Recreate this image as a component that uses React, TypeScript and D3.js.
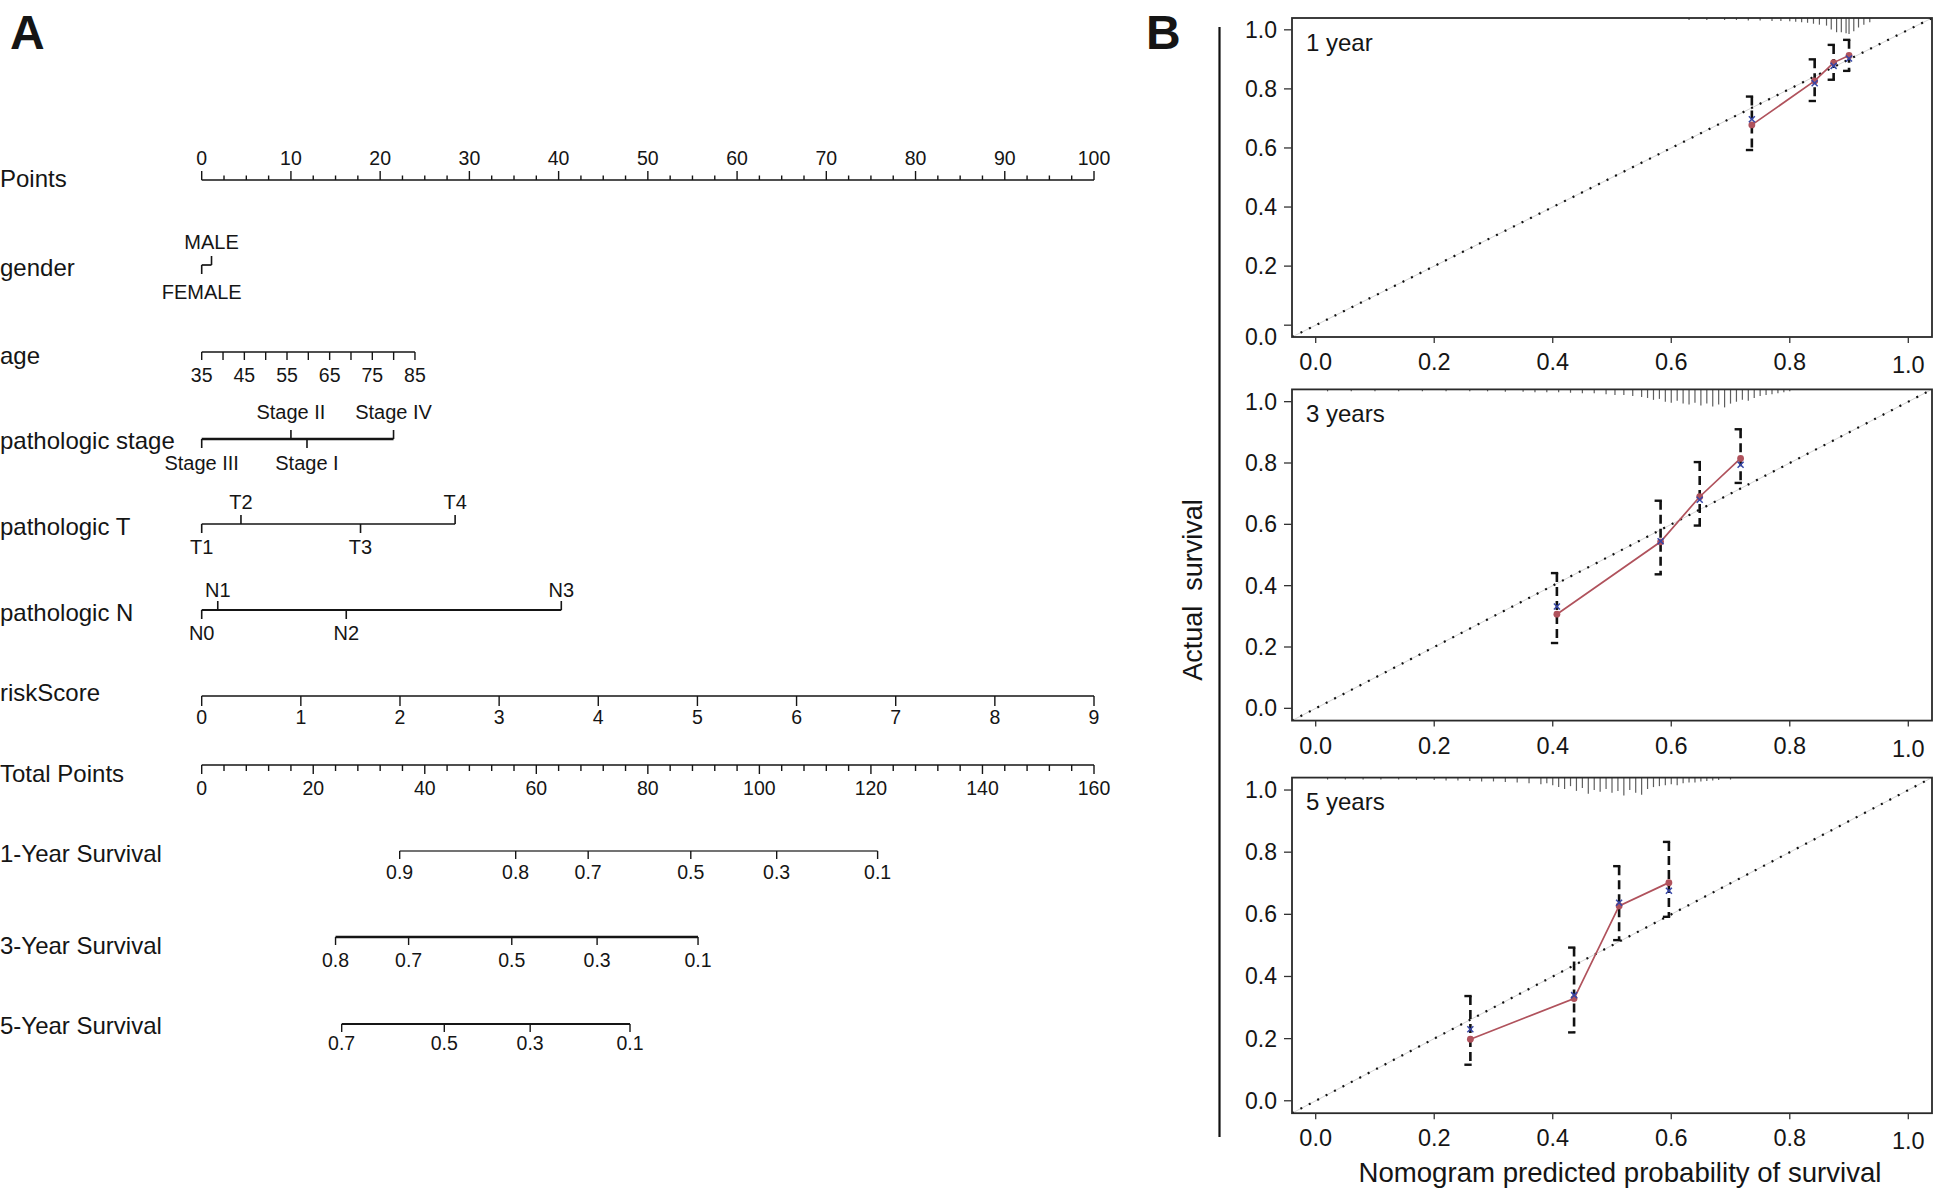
import React from "react";
import * as d3 from "d3";

const FONT = '"Liberation Sans", Arial, Helvetica, sans-serif';

// ---------------- Panel A: nomogram data ----------------
const pointsTicks = [0, 10, 20, 30, 40, 50, 60, 70, 80, 90, 100];
const genderLevels = ["FEMALE", "MALE"];
const genderPoints = [0, 1.1];
const genderSide = ["below", "above"];
const ageTickValues = [35, 40, 45, 50, 55, 60, 65, 70, 75, 80, 85];
const ageLabelValues = [35, 45, 55, 65, 75, 85];
const ageRange = [35, 85];
const agePointsRange = [0, 23.9];
const stageLevels = ["Stage III", "Stage II", "Stage I", "Stage IV"];
const stagePoints = [0, 10.0, 11.8, 21.5];
const stageSide = ["below", "above", "below", "above"];
const tLevels = ["T1", "T2", "T3", "T4"];
const tPoints = [0, 4.4, 17.8, 28.4];
const tSide = ["below", "above", "below", "above"];
const nLevels = ["N0", "N1", "N2", "N3"];
const nPoints = [0, 1.8, 16.2, 40.3];
const nSide = ["below", "above", "below", "above"];
const riskTicks = [0, 1, 2, 3, 4, 5, 6, 7, 8, 9];
const riskRange = [0, 9];
const riskPointsRange = [0, 100];
const totalTicks = [0, 20, 40, 60, 80, 100, 120, 140, 160];
const surv1Labels = ["0.9", "0.8", "0.7", "0.5", "0.3", "0.1"];
const surv1Total = [35.5, 56.3, 69.3, 87.7, 103.1, 121.2];
const surv3Labels = ["0.8", "0.7", "0.5", "0.3", "0.1"];
const surv3Total = [24.0, 37.1, 55.6, 70.9, 89.0];
const surv5Labels = ["0.7", "0.5", "0.3", "0.1"];
const surv5Total = [25.1, 43.5, 58.9, 76.8];

// ---------------- Panel B: calibration data ----------------
const calTitles = ["1 year", "3 years", "5 years"];
const cal1Pred = [0.736, 0.842, 0.874, 0.9];
const cal1Obs = [0.678, 0.827, 0.889, 0.913];
const cal1Corr = [0.697, 0.819, 0.878, 0.903];
const cal1Lo = [0.593, 0.759, 0.831, 0.861];
const cal1Hi = [0.774, 0.9, 0.949, 0.966];

const cal3Pred = [0.407, 0.582, 0.648, 0.717];
const cal3Obs = [0.307, 0.543, 0.69, 0.815];
const cal3Corr = [0.332, 0.545, 0.68, 0.794];
const cal3Lo = [0.213, 0.437, 0.596, 0.735];
const cal3Hi = [0.441, 0.677, 0.803, 0.91];

const cal5Pred = [0.261, 0.436, 0.512, 0.596];
const cal5Obs = [0.198, 0.329, 0.627, 0.702];
const cal5Corr = [0.23, 0.34, 0.637, 0.676];
const cal5Lo = [0.116, 0.22, 0.517, 0.592];
const cal5Hi = [0.337, 0.493, 0.755, 0.833];

// rug (distribution of predicted probabilities): position, count
const rug1Pos = [0.63, 0.66, 0.69, 0.71, 0.73, 0.75, 0.77, 0.785, 0.8, 0.81, 0.82, 0.83, 0.84, 0.85, 0.862, 0.87, 0.879, 0.887, 0.895, 0.9, 0.908, 0.916, 0.925, 0.935];
const rug1Cnt = [1, 1, 1, 1, 1.5, 1.5, 2, 2, 2.5, 3, 3.5, 4, 5, 6, 7, 11, 14, 14, 15, 16, 13, 9, 6, 3.5];
const rug3Pos = [0.02, 0.06, 0.1, 0.14, 0.18, 0.22, 0.26, 0.29, 0.32, 0.35, 0.37, 0.39, 0.41, 0.43, 0.45, 0.47, 0.49, 0.505, 0.52, 0.535, 0.55, 0.56, 0.57, 0.58, 0.59, 0.6, 0.61, 0.62, 0.63, 0.64, 0.65, 0.66, 0.67, 0.68, 0.69, 0.7, 0.71, 0.72, 0.73, 0.74, 0.75, 0.76, 0.77, 0.78, 0.79, 0.8];
const rug3Cnt = [1, 1, 1, 1, 1, 1, 1, 1, 1.5, 1.5, 2, 2, 2, 2.5, 3, 3, 4, 5, 5, 6, 7, 8, 10, 9, 12, 13, 11, 14, 15, 13, 16, 14, 17, 15, 18, 14, 12, 10, 11, 8, 6, 5, 4, 3, 2, 1];
const rug5Pos = [0.02, 0.05, 0.08, 0.11, 0.14, 0.17, 0.2, 0.22, 0.24, 0.26, 0.28, 0.3, 0.32, 0.34, 0.36, 0.38, 0.39, 0.4, 0.41, 0.42, 0.43, 0.44, 0.45, 0.46, 0.47, 0.48, 0.49, 0.5, 0.51, 0.52, 0.53, 0.54, 0.55, 0.56, 0.57, 0.58, 0.59, 0.6, 0.61, 0.62, 0.63, 0.64, 0.65, 0.66, 0.67, 0.68, 0.7];
const rug5Cnt = [1, 1, 1, 1, 1, 1.5, 1.5, 2, 2, 2.5, 3, 3, 3.5, 4, 5, 6, 5, 7, 9, 11, 8, 13, 10, 16, 12, 14, 11, 15, 13, 18, 12, 15, 17, 11, 9, 8, 7, 6, 7, 5, 4, 4, 3, 2.5, 2, 1.5, 1];

const calAxisTicks = [0, 0.2, 0.4, 0.6, 0.8, 1.0];
const calTickLabels = ["0.0", "0.2", "0.4", "0.6", "0.8", "1.0"];

// ---------------- Layout ----------------
const W = 1952;
const H = 1188;
const INK = "#151515";

const pts = d3.scaleLinear().domain([0, 100]).range([201.7, 1094]);
const tot = d3.scaleLinear().domain([0, 160]).range([201.7, 1094]);
const agePts = d3.scaleLinear().domain(ageRange).range(agePointsRange);
const riskPts = d3.scaleLinear().domain(riskRange).range(riskPointsRange);

const rows = {
  points: { label: 178, line: 180, tick: 158 },
  gender: { label: 267, line: 265, above: 242, below: 292 },
  age: { label: 355, line: 352, tick: 375 },
  stage: { label: 440, line: 439, above: 412, below: 463 },
  T: { label: 526, line: 524, above: 502, below: 547 },
  N: { label: 612, line: 610, above: 590, below: 633 },
  risk: { label: 692, line: 696, tick: 717 },
  total: { label: 773, line: 765, tick: 788 },
  s1: { label: 853, line: 851, tick: 872 },
  s3: { label: 945, line: 937, tick: 960 },
  s5: { label: 1025, line: 1024, tick: 1043 },
};

const Txt = ({ x, y, size = 20, anchor = "start", children, weight = "normal", extra = {} }: any) => (
  <text
    x={x}
    y={y}
    fontSize={size}
    fontFamily={FONT}
    fontWeight={weight}
    textAnchor={anchor}
    dominantBaseline="central"
    fill={INK}
    {...extra}
  >
    {children}
  </text>
);

function RowLabel({ y, text }: any) {
  return <Txt x={0} y={y} size={24}>{text}</Txt>;
}

function CatRow({ levels, values, sides, lay, sw = 1.7 }: any) {
  const xs = values.map((v: number) => pts(v));
  const x0 = d3.min(xs) as number;
  const x1 = d3.max(xs) as number;
  return (
    <g>
      <line x1={x0} x2={x1} y1={lay.line} y2={lay.line} stroke={INK} strokeWidth={sw} />
      {levels.map((l: string, i: number) => {
        const up = sides[i] === "above";
        return (
          <g key={l}>
            <line x1={xs[i]} x2={xs[i]} y1={lay.line} y2={lay.line + (up ? -9 : 9)} stroke={INK} strokeWidth={1.6} />
            <Txt x={xs[i]} y={up ? lay.above : lay.below} anchor="middle" size={20}>{l}</Txt>
          </g>
        );
      })}
    </g>
  );
}

function SurvRow({ labels, totals, lay, sw = 1.6, color = INK }: any) {
  const xs = totals.map((v: number) => tot(v));
  return (
    <g>
      <line x1={d3.min(xs)} x2={d3.max(xs)} y1={lay.line} y2={lay.line} stroke={color} strokeWidth={sw} />
      {labels.map((l: string, i: number) => (
        <g key={l}>
          <line x1={xs[i]} x2={xs[i]} y1={lay.line} y2={lay.line + 8} stroke={INK} strokeWidth={1.4} />
          <Txt x={xs[i]} y={lay.tick} anchor="middle" size={19.5}>{l}</Txt>
        </g>
      ))}
    </g>
  );
}

function Nomogram() {
  const minorPts = d3.range(0, 100.01, 2.5);
  const minorTot = d3.range(0, 160.01, 4);
  return (
    <g>
      <Txt x={10} y={32} size={48} weight="bold">A</Txt>

      {/* Points */}
      <RowLabel y={rows.points.label} text="Points" />
      <line x1={pts(0)} x2={pts(100)} y1={rows.points.line} y2={rows.points.line} stroke={INK} strokeWidth={1.6} />
      {minorPts.map((v) => {
        const major = Math.abs(v % 10) < 1e-6;
        return (
          <line key={v} x1={pts(v)} x2={pts(v)} y1={rows.points.line} y2={rows.points.line - (major ? 9 : 4.5)} stroke={INK} strokeWidth={1.4} />
        );
      })}
      {pointsTicks.map((v) => (
        <Txt key={v} x={pts(v)} y={rows.points.tick} anchor="middle" size={19.5}>{v}</Txt>
      ))}

      {/* gender */}
      <RowLabel y={rows.gender.label} text="gender" />
      <CatRow levels={genderLevels} values={genderPoints} sides={genderSide} lay={rows.gender} />

      {/* age */}
      <RowLabel y={rows.age.label} text="age" />
      <line x1={pts(agePts(35))} x2={pts(agePts(85))} y1={rows.age.line} y2={rows.age.line} stroke={INK} strokeWidth={1.6} />
      {ageTickValues.map((a) => (
        <line key={a} x1={pts(agePts(a))} x2={pts(agePts(a))} y1={rows.age.line} y2={rows.age.line + 8} stroke={INK} strokeWidth={1.4} />
      ))}
      {ageLabelValues.map((a) => (
        <Txt key={a} x={pts(agePts(a))} y={rows.age.tick} anchor="middle" size={19.5}>{a}</Txt>
      ))}

      {/* pathologic stage */}
      <RowLabel y={rows.stage.label} text="pathologic stage" />
      <CatRow levels={stageLevels} values={stagePoints} sides={stageSide} lay={rows.stage} sw={2.3} />

      {/* pathologic T */}
      <RowLabel y={rows.T.label} text="pathologic T" />
      <CatRow levels={tLevels} values={tPoints} sides={tSide} lay={rows.T} />

      {/* pathologic N */}
      <RowLabel y={rows.N.label} text="pathologic N" />
      <CatRow levels={nLevels} values={nPoints} sides={nSide} lay={rows.N} sw={2} />

      {/* riskScore */}
      <RowLabel y={rows.risk.label} text="riskScore" />
      <line x1={pts(riskPts(0))} x2={pts(riskPts(9))} y1={rows.risk.line} y2={rows.risk.line} stroke={INK} strokeWidth={1.6} />
      {riskTicks.map((r) => (
        <g key={r}>
          <line x1={pts(riskPts(r))} x2={pts(riskPts(r))} y1={rows.risk.line} y2={rows.risk.line + 10} stroke={INK} strokeWidth={1.4} />
          <Txt x={pts(riskPts(r))} y={rows.risk.tick} anchor="middle" size={19.5}>{r}</Txt>
        </g>
      ))}

      {/* Total Points */}
      <RowLabel y={rows.total.label} text="Total Points" />
      <line x1={tot(0)} x2={tot(160)} y1={rows.total.line} y2={rows.total.line} stroke={INK} strokeWidth={1.6} />
      {minorTot.map((v) => {
        const major = Math.abs(v % 20) < 1e-6;
        return (
          <line key={v} x1={tot(v)} x2={tot(v)} y1={rows.total.line} y2={rows.total.line + (major ? 9 : 6)} stroke={INK} strokeWidth={1.4} />
        );
      })}
      {totalTicks.map((v) => (
        <Txt key={v} x={tot(v)} y={rows.total.tick} anchor="middle" size={19.5}>{v}</Txt>
      ))}

      <RowLabel y={rows.s1.label} text="1-Year Survival" />
      <SurvRow labels={surv1Labels} totals={surv1Total} lay={rows.s1} sw={1.5} color="#444" />
      <RowLabel y={rows.s3.label} text="3-Year Survival" />
      <SurvRow labels={surv3Labels} totals={surv3Total} lay={rows.s3} sw={2.3} />
      <RowLabel y={rows.s5.label} text="5-Year Survival" />
      <SurvRow labels={surv5Labels} totals={surv5Total} lay={rows.s5} sw={1.9} />
    </g>
  );
}

// ---------------- Calibration panels ----------------
const BOX_X: [number, number] = [1292, 1932];
const BOX_Y: [number, number][] = [
  [18, 337],
  [389.4, 720.6],
  [777.6, 1113.2],
];

const calData = [
  { pred: cal1Pred, obs: cal1Obs, corr: cal1Corr, lo: cal1Lo, hi: cal1Hi, rugPos: rug1Pos, rugCnt: rug1Cnt },
  { pred: cal3Pred, obs: cal3Obs, corr: cal3Corr, lo: cal3Lo, hi: cal3Hi, rugPos: rug3Pos, rugCnt: rug3Cnt },
  { pred: cal5Pred, obs: cal5Obs, corr: cal5Corr, lo: cal5Lo, hi: cal5Hi, rugPos: rug5Pos, rugCnt: rug5Cnt },
];

const rugLen = d3.scaleLinear().domain([0, 18]).range([1, 18]);

function CalPanel({ idx }: { idx: number }) {
  const d = calData[idx];
  const [top, bottom] = BOX_Y[idx];
  const x = d3.scaleLinear().domain([-0.04, 1.04]).range(BOX_X);
  const y = d3.scaleLinear().domain([-0.04, 1.04]).range([bottom, top]);
  const clipId = `clip${idx}`;
  const line = d3
    .line<number>()
    .x((_, i) => x(d.pred[i]))
    .y((v) => y(v));
  return (
    <g>
      <defs>
        <clipPath id={clipId}>
          <rect x={BOX_X[0]} y={top} width={BOX_X[1] - BOX_X[0]} height={bottom - top} />
        </clipPath>
      </defs>
      {/* rug */}
      {d.rugPos.map((p, i) => (
        <line key={i} x1={x(p)} x2={x(p)} y1={top} y2={top + rugLen(d.rugCnt[i])} stroke="#5e5e5e" strokeWidth={1.2} />
      ))}
      {/* ideal diagonal */}
      <g clipPath={`url(#${clipId})`}>
        <line x1={x(-0.04)} y1={y(-0.04)} x2={x(1.04)} y2={y(1.04)} stroke="#d6d6d6" strokeWidth={1} />
        <line x1={x(-0.04)} y1={y(-0.04)} x2={x(1.04)} y2={y(1.04)} stroke="#111" strokeWidth={2.2} strokeDasharray="2 7.5" />
      </g>
      {/* error bars */}
      {d.pred.map((p, i) => (
        <g key={i}>
          <line x1={x(p)} x2={x(p)} y1={y(d.hi[i])} y2={y(d.lo[i])} stroke="#111" strokeWidth={2.6} strokeDasharray="9 5" />
          <line x1={x(p) - 6} x2={x(p) + 1.3} y1={y(d.hi[i])} y2={y(d.hi[i])} stroke="#111" strokeWidth={2.4} />
          <line x1={x(p) - 6} x2={x(p) + 1.3} y1={y(d.lo[i])} y2={y(d.lo[i])} stroke="#111" strokeWidth={2.4} />
        </g>
      ))}
      {/* observed line */}
      <path d={line(d.obs) as string} fill="none" stroke="#b0525c" strokeWidth={1.7} />
      {d.obs.map((v, i) => (
        <circle key={i} cx={x(d.pred[i])} cy={y(v)} r={3.4} fill="#b0525c" />
      ))}
      {/* bias-corrected markers */}
      {d.corr.map((v, i) => {
        const cx = x(d.pred[i]);
        const cy = y(v);
        const s = 3;
        return (
          <g key={i} stroke="#3646a6" strokeWidth={1.5}>
            <line x1={cx - s} x2={cx + s} y1={cy - s} y2={cy + s} />
            <line x1={cx - s} x2={cx + s} y1={cy + s} y2={cy - s} />
          </g>
        );
      })}
      {/* box */}
      <rect x={BOX_X[0]} y={top} width={BOX_X[1] - BOX_X[0]} height={bottom - top} fill="none" stroke="#2a2a2a" strokeWidth={1.8} />
      {/* y axis */}
      {calAxisTicks.map((t, i) => (
        <g key={t}>
          <line x1={BOX_X[0] - 8} x2={BOX_X[0]} y1={y(t)} y2={y(t)} stroke="#333" strokeWidth={1.3} />
          <Txt x={1277} y={y(t) + (idx === 0 && i === 0 ? 12 : 0)} anchor="end" size={23}>{calTickLabels[i]}</Txt>
        </g>
      ))}
      {/* x axis */}
      {calAxisTicks.map((t, i) => (
        <g key={t}>
          <line x1={x(t)} x2={x(t)} y1={bottom} y2={bottom + 6} stroke="#333" strokeWidth={1.3} />
          <Txt x={x(t)} y={bottom + 25 + (i === 5 ? 3 : 0)} anchor="middle" size={23.5}>{calTickLabels[i]}</Txt>
        </g>
      ))}
      <Txt x={1306} y={top + 24} size={24}>{calTitles[idx]}</Txt>
    </g>
  );
}

function Calibration() {
  return (
    <g>
      <Txt x={1146} y={32} size={48} weight="bold">B</Txt>
      <line x1={1219.5} x2={1219.5} y1={27} y2={1137} stroke="#111" strokeWidth={2.2} />
      <text
        transform="translate(1193,590) rotate(-90)"
        fontSize={27}
        fontFamily={FONT}
        textAnchor="middle"
        dominantBaseline="central"
        fill={INK}
        style={{ whiteSpace: "pre" }}
      >
        {"Actual  survival"}
      </text>
      {[0, 1, 2].map((i) => (
        <CalPanel key={i} idx={i} />
      ))}
      <Txt x={1620} y={1172} anchor="middle" size={27.6}>Nomogram predicted probability of survival</Txt>
    </g>
  );
}

export default function App() {
  return (
    <div style={{ position: "absolute", left: 0, top: 0, width: W, height: H, background: "#fff" }}>
      <svg width={W} height={H} viewBox={`0 0 ${W} ${H}`} style={{ display: "block" }}>
        <rect x={0} y={0} width={W} height={H} fill="#fff" />
        <Nomogram />
        <Calibration />
      </svg>
    </div>
  );
}
